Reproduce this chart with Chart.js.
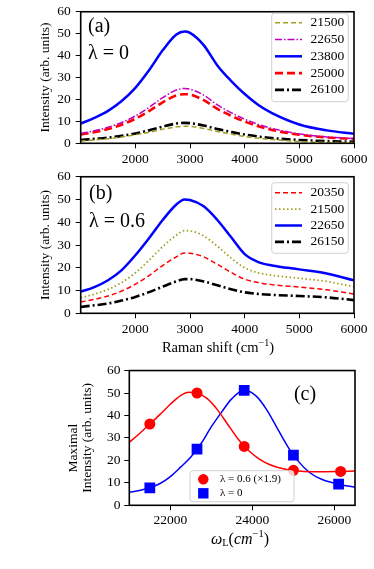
<!DOCTYPE html>
<html>
<head>
<meta charset="utf-8">
<script src="https://cdn.jsdelivr.net/npm/chart.js@4.4.1/dist/chart.umd.min.js"></script>
<style>
  html, body { margin: 0; padding: 0; background: #fff; }
  #wrap { position: relative; width: 374px; height: 569px; }
  canvas { position: absolute; left: 0; }
</style>
</head>
<body>
<div id="wrap">
  <canvas id="panelA" width="374" height="165" style="top:0px"></canvas>
  <canvas id="panelB" width="374" height="195" style="top:165px"></canvas>
  <canvas id="panelC" width="374" height="209" style="top:360px"></canvas>
</div>
<script>
const SERIF = "'Liberation Serif', 'DejaVu Serif', serif";

// Eje x de los paneles (a) y (b): desplazamiento Raman (cm-1)
const ramanShift = [1000, 1250, 1500, 1750, 2000, 2250, 2500, 2750, 2900, 3000, 3250, 3500, 3750, 4000, 4250, 4500, 5000, 5500, 6000];
const ramanTicks = [2000, 3000, 4000, 5000, 6000];
const intensityTicks = [0, 10, 20, 30, 40, 50, 60];

// Panel (a), lambda = 0
const a21500 = [1.0, 1.5, 2.1, 2.9, 3.9, 5.0, 6.4, 7.5, 7.8, 7.7, 6.8, 5.4, 4.2, 3.1, 2.3, 1.7, 0.8, 0.4, 0.3];
const a22650 = [4.5, 5.7, 7.3, 9.5, 12.5, 16.4, 20.8, 24.3, 25.0, 24.7, 22.0, 17.5, 14.0, 11.0, 8.6, 6.8, 4.3, 2.9, 2.2];
const a23800 = [9.0, 11.6, 14.8, 19.3, 25.3, 33.3, 42.4, 49.6, 51.0, 50.4, 44.8, 35.5, 28.5, 22.5, 17.5, 13.8, 8.6, 5.9, 4.4];
const a25000 = [4.0, 5.1, 6.5, 8.5, 11.2, 14.7, 18.7, 21.8, 22.4, 22.2, 19.7, 15.7, 12.6, 9.9, 7.8, 6.1, 3.9, 2.7, 2.0];
const a26100 = [1.5, 2.0, 2.6, 3.4, 4.5, 5.9, 7.6, 9.0, 9.3, 9.2, 8.1, 6.5, 5.2, 4.0, 3.1, 2.4, 1.5, 1.0, 0.7];

// Panel (b), lambda = 0.6
const b20350 = [5.0, 6.1, 7.6, 9.8, 12.8, 16.6, 21.0, 24.8, 26.5, 26.4, 24.8, 21.5, 18.0, 15.0, 13.5, 12.6, 11.5, 10.3, 8.5];
const b21500 = [6.9, 8.4, 10.5, 13.5, 17.8, 23.3, 29.3, 34.3, 36.3, 36.2, 34.0, 29.5, 24.3, 20.0, 17.8, 16.7, 15.4, 14.0, 11.7];
const b22650 = [9.5, 11.5, 14.5, 19.0, 25.5, 33.0, 41.0, 47.8, 50.0, 49.8, 47.0, 41.0, 33.5, 26.0, 22.5, 21.0, 19.3, 17.5, 14.5];
const b26150 = [2.8, 3.5, 4.3, 5.6, 7.2, 9.3, 11.7, 14.0, 15.0, 15.0, 14.0, 12.3, 10.6, 9.2, 8.5, 8.1, 7.6, 7.0, 5.8];

// Panel (c): intensidad maxima vs frecuencia del laser
const laserL0 = [21500, 22650, 23800, 25000, 26100];
const maxL0 = [7.8, 25.0, 51.2, 22.3, 9.4];
const laserL06 = [21500, 22650, 23800, 25000, 26150];
const maxL06 = [36.2, 50.0, 26.2, 15.6, 15.1];
const ajusteL06X = [21000, 21250, 21500, 21750, 22000, 22250, 22450, 22650, 22900, 23150, 23400, 23650, 23900, 24150, 24400, 24650, 24900, 25250, 25600, 26000, 26500];
const ajusteL06Y = [28, 32, 36.2, 40.5, 45, 48.8, 50.3, 50.0, 47.5, 42.5, 36, 29.5, 24.5, 20.8, 18.3, 16.7, 15.7, 15.1, 14.9, 15.0, 15.3];
const ajusteL0X = [21000, 21250, 21500, 21750, 22000, 22250, 22500, 22750, 23000, 23250, 23500, 23800, 24100, 24350, 24600, 24850, 25100, 25400, 25700, 26100, 26500];
const ajusteL0Y = [5.8, 6.6, 7.8, 9.7, 12.8, 17, 21.5, 27.5, 35, 41.5, 47.5, 51.2, 48.5, 42.5, 34.5, 26.5, 20, 14.5, 11.5, 9.4, 8.0];
const laserTicks = [22000, 24000, 26000];

// Serie de linea
function serie(label, xs, ys, color, width, dash) {
  return {
    label: label,
    data: xs.map((x, i) => ({ x: x, y: ys[i] })),
    borderColor: color,
    backgroundColor: color,
    borderWidth: width,
    borderDash: dash,
    pointRadius: 0,
    fill: false,
    cubicInterpolationMode: 'monotone'
  };
}

// Serie de puntos
function puntos(label, xs, ys, color, estilo, radio) {
  return {
    label: label,
    data: xs.map((x, i) => ({ x: x, y: ys[i] })),
    showLine: false,
    borderColor: color,
    backgroundColor: color,
    borderWidth: 0,
    pointStyle: estilo,
    pointRadius: radio
  };
}

// Ejes comunes
function ejes(c) {
  return {
    x: {
      type: 'linear', min: c.xMin, max: c.xMax,
      afterBuildTicks: s => { s.ticks = c.xTicks.map(v => ({ value: v })); },
      afterFit: s => { s.height = c.xHeight; },
      grid: { drawOnChartArea: false, tickLength: 5, color: '#000' },
      border: { display: false },
      ticks: { color: '#000', font: { family: SERIF, size: 13.5, lineHeight: 1 }, padding: c.xPad, maxRotation: 0, autoSkip: false, callback: v => String(v) }
    },
    y: {
      type: 'linear', min: 0, max: 60,
      afterBuildTicks: s => { s.ticks = intensityTicks.map(v => ({ value: v })); },
      afterFit: s => { s.width = c.yWidth; },
      grid: { drawOnChartArea: false, tickLength: 5, color: '#000' },
      border: { display: false },
      ticks: { color: '#000', font: { family: SERIF, size: 13.5, lineHeight: 1 }, padding: c.yPad, autoSkip: false, callback: v => String(v) },
      title: { display: true, text: c.yTitle, color: '#000', font: { family: SERIF, size: 13.5, lineHeight: c.yLine }, padding: { top: c.yTitlePad, bottom: 0 } }
    }
  };
}

// Marco, textos y leyenda dentro del panel
const decorado = {
  id: 'decorado',
  afterDatasetsDraw(chart, args, opts) {
    const ctx = chart.ctx;
    const a = chart.chartArea;
    ctx.save();
    ctx.strokeStyle = '#000';
    ctx.lineWidth = 1.6;
    ctx.setLineDash([]);
    ctx.strokeRect(a.left, a.top, a.right - a.left, a.bottom - a.top);

    ctx.fillStyle = '#000';
    ctx.textBaseline = 'middle';
    (opts.texts || []).forEach(t => {
      if (t.runs) {
        let total = 0;
        t.runs.forEach(r => { ctx.font = (r.italic ? 'italic ' : '') + r.size + 'px ' + SERIF; total += ctx.measureText(r.text).width; });
        let x = t.x - total / 2;
        ctx.textAlign = 'left';
        t.runs.forEach(r => {
          ctx.font = (r.italic ? 'italic ' : '') + r.size + 'px ' + SERIF;
          ctx.fillText(r.text, x, t.y + (r.dy || 0));
          x += ctx.measureText(r.text).width;
        });
      } else {
        ctx.font = t.size + 'px ' + SERIF;
        ctx.textAlign = t.align || 'left';
        ctx.fillText(t.text, t.x, t.y);
      }
    });

    const L = opts.legend;
    if (L) {
      ctx.beginPath();
      ctx.roundRect(L.x, L.y, L.w, L.h, 3);
      ctx.fillStyle = 'rgba(255,255,255,0.8)';
      ctx.fill();
      ctx.strokeStyle = '#d0d0d0';
      ctx.lineWidth = 1;
      ctx.stroke();
      L.items.forEach((idx, i) => {
        const ds = chart.data.datasets[idx];
        const y = L.rowY + i * L.rowH;
        ctx.fillStyle = ds.borderColor;
        ctx.strokeStyle = ds.borderColor;
        if (ds.showLine === false) {
          const r = L.marker;
          if (ds.pointStyle === 'rect') {
            ctx.fillRect(L.x1 - r, y - r, 2 * r, 2 * r);
          } else {
            ctx.beginPath();
            ctx.arc(L.x1, y, r, 0, Math.PI * 2);
            ctx.fill();
          }
        } else {
          ctx.lineWidth = ds.borderWidth;
          ctx.setLineDash(ds.borderDash || []);
          ctx.beginPath();
          ctx.moveTo(L.x1, y);
          ctx.lineTo(L.x2, y);
          ctx.stroke();
          ctx.setLineDash([]);
        }
        ctx.fillStyle = '#000';
        ctx.font = L.size + 'px ' + SERIF;
        ctx.textAlign = 'left';
        ctx.fillText(ds.label, L.tx, y);
      });
    }
    ctx.restore();
  }
};

const OLIVA = '#a0a020';

// Panel (a)
new Chart(document.getElementById('panelA'), {
  type: 'line',
  data: {
    datasets: [
      serie('21500', ramanShift, a21500, OLIVA, 1.5, [5, 3]),
      serie('22650', ramanShift, a22650, '#c000c0', 1.5, [7, 2, 1.5, 2]),
      serie('23800', ramanShift, a23800, '#0000ff', 2.5, []),
      serie('25000', ramanShift, a25000, '#ff0000', 2.6, [8, 4]),
      serie('26100', ramanShift, a26100, '#000000', 2.6, [9, 3, 2, 3])
    ]
  },
  options: {
    responsive: false, animation: false, devicePixelRatio: 1,
    layout: { padding: { left: 0, right: 20, top: 6.7, bottom: 0 } },
    scales: ejes({ xMin: 1000, xMax: 6000, xTicks: ramanTicks, xHeight: 21.7, xPad: 4, yWidth: 80.7, yPad: 5, yTitle: 'Intensity (arb. units)', yLine: 1.2, yTitlePad: 37.4 }),
    plugins: {
      legend: { display: false }, tooltip: { enabled: false },
      decorado: {
        texts: [
          { text: '(a)', x: 88, y: 27, size: 20 },
          { text: 'λ = 0', x: 88, y: 53.5, size: 20 }
        ],
        legend: { x: 271.7, y: 13.3, w: 76.6, h: 88.4, rowY: 22.7, rowH: 16.8, items: [0, 1, 2, 3, 4], x1: 275, x2: 302, tx: 310.5, size: 13.5 }
      }
    }
  },
  plugins: [decorado]
});

// Panel (b)
new Chart(document.getElementById('panelB'), {
  type: 'line',
  data: {
    datasets: [
      serie('20350', ramanShift, b20350, '#ff0000', 1.5, [5, 3]),
      serie('21500', ramanShift, b21500, OLIVA, 1.8, [1.5, 2.5]),
      serie('22650', ramanShift, b22650, '#0000ff', 2.5, []),
      serie('26150', ramanShift, b26150, '#000000', 2.6, [9, 3, 2, 3])
    ]
  },
  options: {
    responsive: false, animation: false, devicePixelRatio: 1,
    layout: { padding: { left: 0, right: 20, top: 11.7, bottom: 0 } },
    scales: ejes({ xMin: 1000, xMax: 6000, xTicks: ramanTicks, xHeight: 46.7, xPad: 4, yWidth: 80.7, yPad: 5, yTitle: 'Intensity (arb. units)', yLine: 1.2, yTitlePad: 37.4 }),
    plugins: {
      legend: { display: false }, tooltip: { enabled: false },
      decorado: {
        texts: [
          { text: '(b)', x: 89, y: 29, size: 20 },
          { text: 'λ = 0.6', x: 89, y: 57, size: 20 },
          { runs: [
              { text: 'Raman shift (cm', size: 14.5 },
              { text: '−1', size: 10, dy: -5 },
              { text: ')', size: 14.5 }
            ], x: 218, y: 183.3 }
        ],
        legend: { x: 271.7, y: 17.7, w: 76.6, h: 70.6, rowY: 27.7, rowH: 16.4, items: [0, 1, 2, 3], x1: 275, x2: 302, tx: 310.5, size: 13.5 }
      }
    }
  },
  plugins: [decorado]
});

// Panel (c)
new Chart(document.getElementById('panelC'), {
  type: 'line',
  data: {
    datasets: [
      serie('ajuste 0.6', ajusteL06X, ajusteL06Y, '#ff0000', 1.5, []),
      serie('ajuste 0', ajusteL0X, ajusteL0Y, '#0000ff', 1.5, []),
      puntos('λ = 0.6 (×1.9)', laserL06, maxL06, '#ff0000', 'circle', 5.5),
      puntos('λ = 0', laserL0, maxL0, '#0000ff', 'rect', 7.6)
    ]
  },
  options: {
    responsive: false, animation: false, devicePixelRatio: 1,
    layout: { padding: { left: 0, right: 19, top: 9.3, bottom: 0 } },
    scales: ejes({ xMin: 21000, xMax: 26500, xTicks: laserTicks, xHeight: 63.7, xPad: 3.7, yWidth: 129.3, yPad: 3.8, yTitle: ['Maximal      ', 'Intensity (arb. units)'], yLine: 1.04, yTitlePad: 66.3 }),
    plugins: {
      legend: { display: false }, tooltip: { enabled: false },
      decorado: {
        texts: [
          { text: '(c)', x: 305, y: 35, size: 20, align: 'center' },
          { runs: [
              { text: 'ω', size: 16, italic: true },
              { text: 'L', size: 10.5, dy: 3 },
              { text: '(', size: 16 },
              { text: 'cm', size: 16, italic: true },
              { text: '−1', size: 10.5, dy: -6 },
              { text: ')', size: 16 }
            ], x: 240, y: 180 }
        ],
        legend: { x: 190, y: 110.7, w: 104, h: 31, rowY: 119.3, rowH: 14, items: [2, 3], x1: 203.3, x2: 203.3, tx: 220, size: 11, marker: 5.2 }
      }
    }
  },
  plugins: [decorado]
});
</script>
</body>
</html>
